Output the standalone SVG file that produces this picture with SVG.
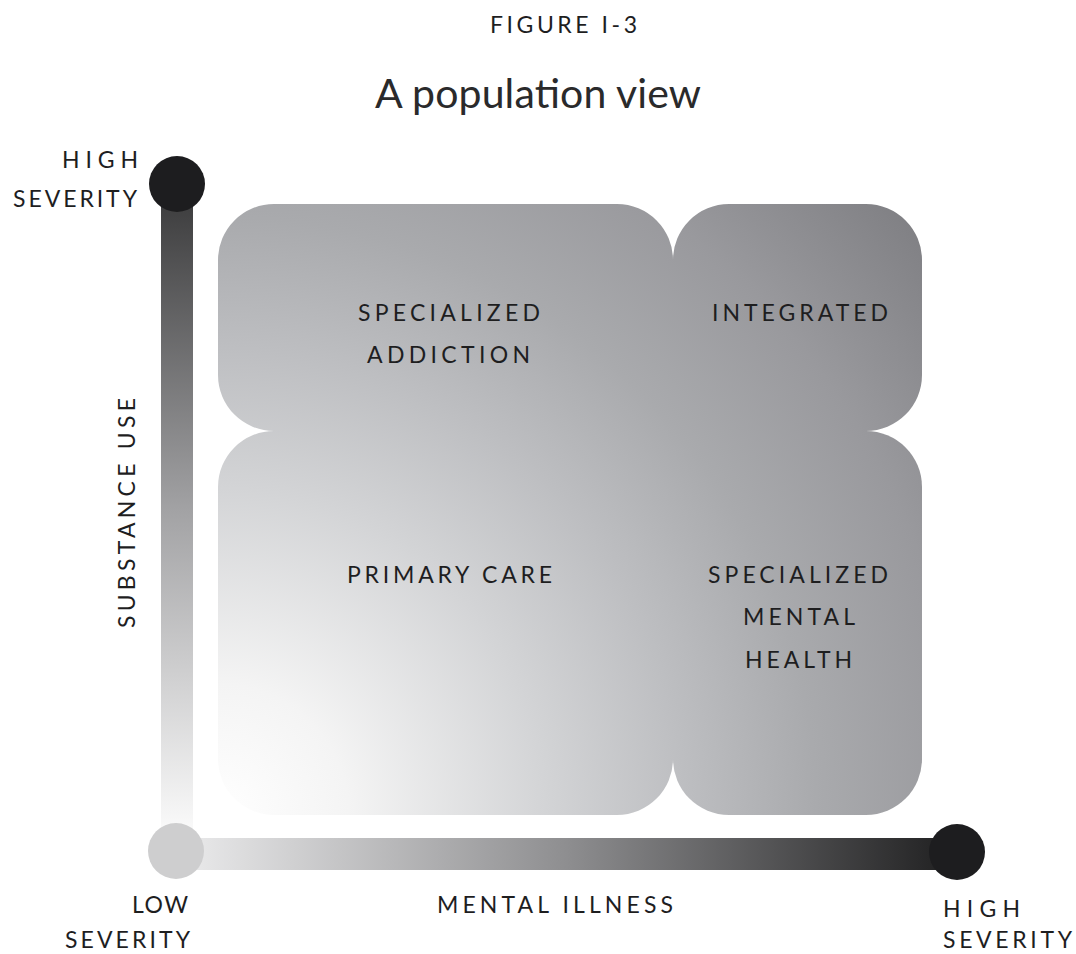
<svg xmlns="http://www.w3.org/2000/svg" width="1076" height="954" viewBox="0 0 1076 954">
  <defs>
    <radialGradient id="quadFill" gradientUnits="userSpaceOnUse" cx="218" cy="815" r="935">
      <stop offset="0" stop-color="#ffffff"/>
      <stop offset="0.14" stop-color="#f4f4f4"/>
      <stop offset="0.35" stop-color="#d3d4d6"/>
      <stop offset="0.5" stop-color="#bdbec1"/>
      <stop offset="0.64" stop-color="#a9aaad"/>
      <stop offset="0.8" stop-color="#99999d"/>
      <stop offset="1" stop-color="#7d7d81"/>
    </radialGradient>
    <linearGradient id="vBar" gradientUnits="userSpaceOnUse" x1="0" y1="184" x2="0" y2="835">
      <stop offset="0" stop-color="#383839"/>
      <stop offset="0.5" stop-color="#a2a2a4"/>
      <stop offset="1" stop-color="#fbfbfb"/>
    </linearGradient>
    <linearGradient id="hBar" gradientUnits="userSpaceOnUse" x1="176" y1="0" x2="957" y2="0">
      <stop offset="0" stop-color="#ececed"/>
      <stop offset="0.5" stop-color="#8e8e90"/>
      <stop offset="1" stop-color="#1f1f20"/>
    </linearGradient>
    <style>
      .lbl { font-family: Lato, "Open Sans", "Liberation Sans", sans-serif; font-size: 23px; fill: #1e1e1f; }
      .quad { fill: url(#quadFill); }
      .dot { fill: #1d1d1f; }
    </style>
  </defs>
  <rect width="1076" height="954" fill="#ffffff"/>

  <g id="header">
    <text class="lbl" x="490" y="33" font-size="22" textLength="147" lengthAdjust="spacing">FIGURE I-3</text>
    <text x="375" y="108" font-family="Lato, 'Open Sans', 'Liberation Sans', sans-serif" font-size="41" fill="#2a2a2b" textLength="326" lengthAdjust="spacing">A population view</text>
  </g>

  <g id="quad-specialized-addiction">
    <path class="quad" d="M274,204 H617 A56,56 0 0 1 673,260 H674 V432 H274 V431 A56,56 0 0 1 218,375 V260 A56,56 0 0 1 274,204 Z"/>
    <text class="lbl" x="358" y="321" textLength="182" lengthAdjust="spacing">SPECIALIZED</text>
    <text class="lbl" x="367" y="363" textLength="163" lengthAdjust="spacing">ADDICTION</text>
  </g>
  <g id="quad-integrated">
    <path class="quad" d="M729,204 H866 A56,56 0 0 1 922,260 V375 A56,56 0 0 1 866,431 V432 H673 V260 A56,56 0 0 1 729,204 Z"/>
    <text class="lbl" x="712" y="321" textLength="176" lengthAdjust="spacing">INTEGRATED</text>
  </g>
  <g id="quad-primary-care">
    <path class="quad" d="M274,431 H674 V759 H673 A56,56 0 0 1 617,815 H274 A56,56 0 0 1 218,759 V487 A56,56 0 0 1 274,431 Z"/>
    <text class="lbl" x="347" y="583" textLength="205" lengthAdjust="spacing">PRIMARY CARE</text>
  </g>
  <g id="quad-specialized-mental-health">
    <path class="quad" d="M673,431 H866 A56,56 0 0 1 922,487 V759 A56,56 0 0 1 866,815 H729 A56,56 0 0 1 673,759 Z"/>
    <text class="lbl" x="708" y="583" textLength="180" lengthAdjust="spacing">SPECIALIZED</text>
    <text class="lbl" x="743" y="625" textLength="112" lengthAdjust="spacing">MENTAL</text>
    <text class="lbl" x="745" y="668" textLength="107" lengthAdjust="spacing">HEALTH</text>
  </g>

  <g id="connectors">
    <rect x="161" y="184" width="32" height="668" fill="url(#vBar)"/>
    <rect x="176" y="838" width="781" height="32" fill="url(#hBar)"/>
  </g>

  <g id="axis-origin">
    <circle cx="176" cy="851" r="28" fill="#cececf"/>
    <text class="lbl" x="132" y="913" textLength="56" lengthAdjust="spacing">LOW</text>
    <text class="lbl" x="65" y="948" textLength="125" lengthAdjust="spacing">SEVERITY</text>
  </g>

  <g id="axis-substance-use">
    <circle class="dot" cx="177" cy="184" r="28"/>
    <text class="lbl" x="62" y="168" textLength="76" lengthAdjust="spacing">HIGH</text>
    <text class="lbl" x="13" y="207" textLength="124" lengthAdjust="spacing">SEVERITY</text>
    <text class="lbl" transform="translate(135,628) rotate(-90)" x="0" y="0" textLength="230" lengthAdjust="spacing">SUBSTANCE USE</text>
  </g>

  <g id="axis-mental-illness">
    <circle class="dot" cx="957" cy="852" r="28"/>
    <text class="lbl" x="437" y="913" textLength="236" lengthAdjust="spacing">MENTAL ILLNESS</text>
    <text class="lbl" x="943" y="917" textLength="77" lengthAdjust="spacing">HIGH</text>
    <text class="lbl" x="943" y="948" textLength="129" lengthAdjust="spacing">SEVERITY</text>
  </g>
</svg>
